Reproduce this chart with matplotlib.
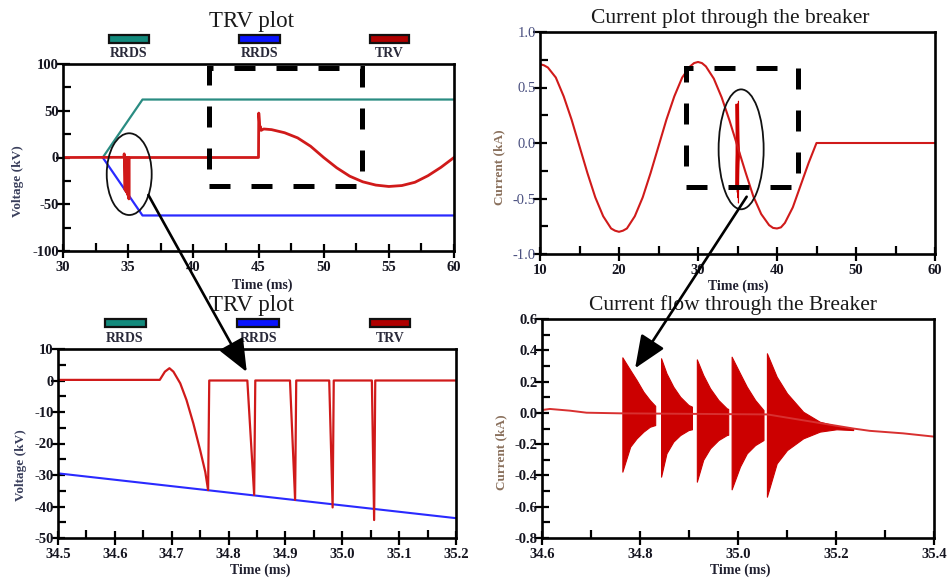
import matplotlib
matplotlib.use("Agg")
import matplotlib.pyplot as plt
from matplotlib.patches import Rectangle, Ellipse, ConnectionPatch

plt.rcParams["font.family"] = ["Liberation Serif", "DejaVu Serif"]
plt.rcParams["axes.unicode_minus"] = False

W, H = 948, 586

# ---------------- data ----------------
# RRDS envelopes (kV) vs time (ms)
rrds_pos_t = [33.05, 36.1, 60.0]
rrds_pos_v = [0.0, 62.0, 62.0]
rrds_neg_t = [33.05, 36.1, 60.0]
rrds_neg_v = [0.0, -62.0, -62.0]

# TRV across the breaker: reignition notches near 34.7-35.1 ms, interruption at 45 ms
trv_t = [30.0, 34.679, 34.688, 34.696, 34.703, 34.715, 34.726, 34.738, 34.750, 34.759, 34.764, 34.766,
         34.833, 34.845, 34.847, 34.908, 34.917, 34.919, 34.977, 34.983, 34.985, 35.052, 35.056, 35.058,
         45.0, 45.02, 45.06, 45.1, 45.15, 45.2, 45.4,
         46, 47, 48, 49, 50, 51, 52, 53, 54, 55, 56, 57, 58, 59, 60]
trv_v = [0, 0.2, 2.8, 3.9, 2.8, -0.9, -6.2, -13.6, -22.1, -29.0, -34.8, 0,
         0, -36.3, 0, 0, -37.9, 0, 0, -40.3, 0, 0, -44.3, 0,
         0, 47.5, 40, 31, 33, 29, 30.5,
         29.8, 26.5, 21, 12, 0, -11, -20, -26, -29.5, -31, -30, -26.5, -19.5, -10.5, 0]

# breaker current (kA) until interruption at 45 ms
cur_t = [10, 10.5, 11, 12, 13, 14, 15, 16, 17, 18, 19, 19.5,
         20, 20.5, 21, 22, 23, 24, 25, 26, 27, 28, 29, 29.5,
         30, 30.5, 31, 32, 33, 34, 35, 36, 37, 38, 39, 39.5,
         40, 40.5, 41, 42, 43, 44, 45, 60]
cur_v = [0.71, 0.70, 0.68, 0.59, 0.42, 0.21, -0.03, -0.27, -0.49, -0.66, -0.77, -0.79,
         -0.80, -0.79, -0.77, -0.66, -0.49, -0.27, -0.03, 0.21, 0.42, 0.59, 0.69, 0.72,
         0.73, 0.72, 0.69, 0.58, 0.41, 0.20, -0.03, -0.26, -0.48, -0.64, -0.74, -0.765,
         -0.77, -0.76, -0.72, -0.58, -0.38, -0.18, 0.0, 0.0]

# HF current bursts after each reignition: upper / lower envelopes (kA)
burst1_t = [34.764, 34.780, 34.793, 34.807, 34.820, 34.831]
burst1_hi = [0.355, 0.274, 0.210, 0.135, 0.082, 0.045]
burst1_lo = [-0.376, -0.216, -0.163, -0.120, -0.089, -0.078]
burst2_t = [34.843, 34.854, 34.868, 34.882, 34.899, 34.906]
burst2_hi = [0.349, 0.253, 0.167, 0.103, 0.050, 0.040]
burst2_lo = [-0.408, -0.259, -0.184, -0.142, -0.110, -0.105]
burst3_t = [34.916, 34.929, 34.943, 34.960, 34.977, 34.980]
burst3_hi = [0.342, 0.242, 0.157, 0.082, 0.029, 0.025]
burst3_lo = [-0.440, -0.300, -0.227, -0.174, -0.142, -0.140]
burst4_t = [34.987, 35.004, 35.018, 35.035, 35.052]
burst4_hi = [0.359, 0.253, 0.167, 0.082, 0.018]
burst4_lo = [-0.489, -0.344, -0.259, -0.206, -0.174]
burst5_t = [35.059, 35.079, 35.100, 35.133, 35.167, 35.201, 35.235]
burst5_hi = [0.381, 0.231, 0.125, 0.007, -0.057, -0.084, -0.099]
burst5_lo = [-0.536, -0.323, -0.238, -0.163, -0.120, -0.105, -0.110]
bursts = [(burst1_t, burst1_lo, burst1_hi), (burst2_t, burst2_lo, burst2_hi),
          (burst3_t, burst3_lo, burst3_hi), (burst4_t, burst4_lo, burst4_hi),
          (burst5_t, burst5_lo, burst5_hi)]

# low-frequency current underneath the bursts
base_t = [34.6, 34.616, 34.657, 34.691, 34.759, 35.06, 35.235, 35.269, 35.337, 35.4]
base_v = [0.018, 0.025, 0.014, 0.001, -0.003, -0.010, -0.100, -0.115, -0.131, -0.152]

# ticks
tl_xticks = [30, 35, 40, 45, 50, 55, 60]
tl_xminor = [32.5, 37.5, 42.5, 47.5, 52.5, 57.5]
tl_yticks = [-100, -50, 0, 50, 100]
tl_ylabels = ["-100", "-50", "0", "50", "100"]
tl_yminor = [-75, -25, 25, 75]

tr_xticks = [10, 20, 30, 40, 50, 60]
tr_xminor = [15, 25, 35, 45, 55]
tr_yticks = [-1.0, -0.5, 0.0, 0.5, 1.0]
tr_ylabels = ["-1.0", "-0.5", "0.0", "0.5", "1.0"]
tr_yminor = [-0.75, -0.25, 0.25, 0.75]

bl_xticks = [34.5, 34.6, 34.7, 34.8, 34.9, 35.0, 35.1, 35.2]
bl_xlabels = ["34.5", "34.6", "34.7", "34.8", "34.9", "35.0", "35.1", "35.2"]
bl_xminor = [34.55, 34.65, 34.75, 34.85, 34.95, 35.05, 35.15]
bl_yticks = [-50, -40, -30, -20, -10, 0, 10]
bl_yminor = [-45, -35, -25, -15, -5, 5]

br_xticks = [34.6, 34.8, 35.0, 35.2, 35.4]
br_xlabels = ["34.6", "34.8", "35.0", "35.2", "35.4"]
br_xminor = [34.7, 34.9, 35.1, 35.3]
br_yticks = [-0.8, -0.6, -0.4, -0.2, 0.0, 0.2, 0.4, 0.6]
br_ylabels = ["-0.8", "-0.6", "-0.4", "-0.2", "0.0", "0.2", "0.4", "0.6"]
br_yminor = [-0.7, -0.5, -0.3, -0.1, 0.1, 0.3, 0.5]

legend_names = ["RRDS", "RRDS", "TRV"]
legend_colors = ["#138a7c", "#0a14ff", "#b00000"]

TEAL = "#2a8c82"
BLUE = "#2a2aff"
RED = "#d01a1a"
TICK_FS = 10.5

fig = plt.figure(figsize=(W / 100, H / 100), dpi=100)


def fx(x):
    return x / W


def fy(y):
    return 1 - y / H


def axes_px(l, t, r, b):
    return fig.add_axes([l / W, 1 - b / H, (r - l) / W, (b - t) / H])


def style(ax, xt, xl, xm, yt, yl, ym, ycolor="#151520", yweight="bold"):
    for s in ax.spines.values():
        s.set_linewidth(1.9)
    ax.set_xticks(xt)
    ax.set_xticklabels(xl, fontweight="bold", fontsize=TICK_FS, color="#151520")
    ax.set_xticks(xm, minor=True)
    ax.set_yticks(yt)
    ax.set_yticklabels(yl, fontweight=yweight, fontsize=TICK_FS, color=ycolor)
    ax.set_yticks(ym, minor=True)
    ax.tick_params(which="major", direction="inout", length=10, width=1.6)
    ax.tick_params(which="minor", direction="in", length=5.5, width=1.6)
    ax.tick_params(axis="x", which="major", pad=2)
    ax.tick_params(axis="y", which="major", pad=-2)


def legend(ax, ybar0, ybar1, ylab):
    spans = [(0.117, 0.220), (0.450, 0.556), (0.784, 0.884)]
    for (x0, x1), name, c in zip(spans, legend_names, legend_colors):
        ax.add_patch(Rectangle((x0, ybar0), x1 - x0, ybar1 - ybar0, transform=ax.transAxes,
                               facecolor=c, edgecolor="#111111", lw=1.6, clip_on=False))
        ax.text((x0 + x1) / 2, ylab, name, transform=ax.transAxes, ha="center", va="center",
                fontsize=10, fontweight="bold", color="#2a2a3a")


def label_text(x, y, s, rot=0, size=10, weight="bold", color="#202030"):
    fig.text(fx(x), fy(y), s, rotation=rot, ha="center", va="center",
             fontsize=size, fontweight=weight, color=color)


# ---------- top-left: TRV overview ----------
ax_tl = axes_px(63, 64, 454, 251)
ax_tl.plot(rrds_pos_t, rrds_pos_v, color=TEAL, lw=1.6)
ax_tl.plot(rrds_neg_t, rrds_neg_v, color=BLUE, lw=1.6)
ax_tl.plot(trv_t, trv_v, color=RED, lw=2.0)
ax_tl.set_xlim(30, 60)
ax_tl.set_ylim(-100, 100)
style(ax_tl, tl_xticks, [str(v) for v in tl_xticks], tl_xminor, tl_yticks, tl_ylabels, tl_yminor)
legend(ax_tl, 1.112, 1.155, 1.057)

# ---------- top-right: breaker current ----------
ax_tr = axes_px(540, 32, 935, 254)
ax_tr.plot(cur_t, cur_v, color=RED, lw=1.5)
for bt, lo, hi in bursts:
    ax_tr.fill_between(bt, lo, hi, color="#cc0000", lw=0.8)
ax_tr.set_xlim(10, 60)
ax_tr.set_ylim(-1.0, 1.0)
style(ax_tr, tr_xticks, [str(v) for v in tr_xticks], tr_xminor, tr_yticks, tr_ylabels, tr_yminor,
      ycolor="#4a5080", yweight="normal")

# ---------- bottom-left: TRV detail ----------
ax_bl = axes_px(58, 349, 456, 538)
ax_bl.plot(rrds_neg_t, rrds_neg_v, color=BLUE, lw=1.5)
ax_bl.plot(trv_t, trv_v, color=RED, lw=1.6)
ax_bl.set_xlim(34.5, 35.2)
ax_bl.set_ylim(-50, 10)
style(ax_bl, bl_xticks, bl_xlabels, bl_xminor, bl_yticks, [str(v) for v in bl_yticks], bl_yminor)
legend(ax_bl, 1.116, 1.159, 1.053)

# ---------- bottom-right: current bursts ----------
ax_br = axes_px(542, 319, 934, 538)
ax_br.plot(base_t, base_v, color="#d83030", lw=1.4)
for bt, lo, hi in bursts:
    ax_br.fill_between(bt, lo, hi, color="#cc0000", lw=0.8)
ax_br.set_xlim(34.6, 35.4)
ax_br.set_ylim(-0.8, 0.6)
style(ax_br, br_xticks, br_xlabels, br_xminor, br_yticks, br_ylabels, br_yminor)

# ---------- titles and axis labels ----------
label_text(252, 21, "TRV plot", size=16.5, weight="normal", color="#1a1a1a")
label_text(730, 18, "Current plot through the breaker", size=15.5, weight="normal", color="#1a1a1a")
label_text(252, 305, "TRV plot", size=16.5, weight="normal", color="#1a1a1a")
label_text(733, 305, "Current flow through the Breaker", size=15.5, weight="normal", color="#1a1a1a")

for x, y in [(262, 285), (738, 286), (260, 570), (740, 570)]:
    label_text(x, y, "Time (ms)", size=10)
label_text(18, 181, "Voltage (kV)", rot=90, size=9.5, color="#3a3f5c")
label_text(21, 465, "Voltage (kV)", rot=90, size=9.5, color="#3a3f5c")
label_text(499, 167, "Current (kA)", rot=90, size=9.5, color="#8a705c")
label_text(501, 452, "Current (kA)", rot=90, size=9.5, color="#8a705c")

# ---------- zoom call-outs ----------
dash = (0, (4.2, 4.2))
ax_tl.add_patch(Rectangle((41.2, -30.5), 11.75, 126.2, fill=False, edgecolor="black",
                          lw=3.6, linestyle=dash, clip_on=False, zorder=6))
ax_tr.add_patch(Rectangle((28.5, -0.396), 14.16, 1.072, fill=False, edgecolor="black",
                          lw=3.6, linestyle=dash, clip_on=False, zorder=6))
ax_tl.add_patch(Ellipse((35.08, -17.8), 3.45, 87.4, fill=False, edgecolor="#111111",
                        lw=1.3, clip_on=False, zorder=6))
ax_tr.add_patch(Ellipse((35.46, -0.057), 5.7, 1.08, fill=False, edgecolor="#111111",
                        lw=1.3, clip_on=False, zorder=6))

arrow_style = "-|>,head_length=1.0,head_width=0.42"
for axa, pa, axb, pb in [(ax_tl, (36.55, -40.1), ax_bl, (34.832, 2.7)),
                         (ax_tr, (36.16, -0.484), ax_br, (34.79, 0.285))]:
    con = ConnectionPatch(xyA=pa, coordsA=axa.transData, xyB=pb, coordsB=axb.transData,
                          arrowstyle=arrow_style, mutation_scale=20, lw=1.9,
                          color="black", zorder=10)
    fig.add_artist(con)

fig.savefig("out.png", dpi=100)
